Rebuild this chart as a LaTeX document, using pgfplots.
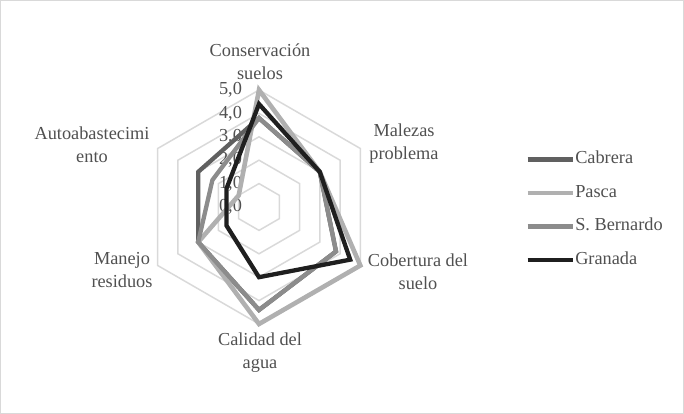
\documentclass[border=0pt]{standalone}
\usepackage{fontspec}
\setmainfont{Liberation Serif}
\usepackage{pgfplots}
\pgfplotsset{compat=1.18}

\definecolor{txt}{HTML}{505050}
\definecolor{gridc}{HTML}{D9D9D9}
\definecolor{cabrera}{HTML}{606060}
\definecolor{pasca}{HTML}{B0B0B0}
\definecolor{bernardo}{HTML}{8C8C8C}
\definecolor{granada}{HTML}{1F1F1F}

\newcommand{\lbl}{\fontsize{18.3}{23}\selectfont}

\begin{document}
\begin{tikzpicture}[x=1pt,y=1pt]
  \useasboundingbox (0,0) rectangle (684,414);
  \draw[gridc, line width=1pt] (0.5,0.5) rectangle (683.5,413.5);
  \begin{axis}[
      at={(259pt,207pt)}, anchor=center,
      x=23.4pt, y=23.4pt,
      xmin=-6, xmax=6, ymin=-6, ymax=6,
      hide axis, clip=false,
      legend cell align=left,
      legend image code/.code={\draw[#1, line width=4.5pt] (0pt,0pt) -- (45pt,0pt);},
      legend style={at={(1.4475,0.49)}, anchor=west, draw=none, fill=none,
        font=\lbl, text=txt, row sep=16.6pt, column sep=0pt, inner sep=0pt,
        nodes={inner sep=0.5pt, text height=12pt, text depth=4pt}},
    ]
    % hexagonal rings
    \pgfplotsinvokeforeach{1,...,5}{
      \addplot[gridc, line width=1.5pt, line join=miter, forget plot, data cs=polar]
        coordinates {(90,#1) (30,#1) (-30,#1) (-90,#1) (-150,#1) (150,#1) (90,#1) (30,#1)};
    }
    % radial tick labels
    \pgfplotsinvokeforeach{0,...,5}{
      \node[anchor=east, text=txt, font=\lbl, inner sep=0pt] at (axis cs:-0.72,#1) {#1,0};
    }
    % order: Conservacion, Malezas, Cobertura, Calidad, Manejo, Autoabastecimiento
    \addplot[cabrera, line width=4.3pt, line join=miter, data cs=polar]
      coordinates {(90,3.8) (30,3.0) (-30,3.8) (-90,4.4) (-150,3.0) (150,3.0) (90,3.8) (30,3.0)};
    \addlegendentry{Cabrera}
    \addplot[pasca, line width=4.6pt, line join=miter, data cs=polar]
      coordinates {(90,5.0) (30,3.0) (-30,5.0) (-90,5.0) (-150,3.0) (150,1.0) (90,5.0) (30,3.0)};
    \addlegendentry{Pasca}
    \addplot[bernardo, line width=4.3pt, line join=miter, data cs=polar]
      coordinates {(90,3.8) (30,3.0) (-30,3.8) (-90,4.4) (-150,3.0) (150,2.3) (90,3.8) (30,3.0)};
    \addlegendentry{S. Bernardo}
    \addplot[granada, line width=4.3pt, line join=miter, data cs=polar]
      coordinates {(90,4.4) (30,3.0) (-30,4.5) (-90,3.0) (-150,1.6) (150,1.6) (90,4.4) (30,3.0)};
    \addlegendentry{Granada}
  \end{axis}
  \begin{scope}[every node/.style={align=center, text=txt, font=\lbl, inner sep=0pt}]
    \node at (260,352) {Conservación\\suelos};
    \node at (404,270) {Malezas\\problema};
    \node at (418,142.5) {Cobertura del\\suelo};
    \node at (260,61) {Calidad del\\agua};
    \node at (122,144) {Manejo\\residuos};
    \node at (92,269) {Autoabastecimi\\ento};
  \end{scope}
\end{tikzpicture}
\end{document}
